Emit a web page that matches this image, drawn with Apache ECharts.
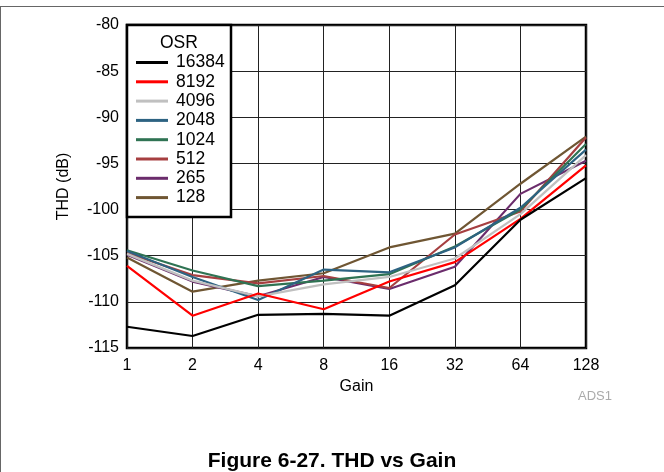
<!DOCTYPE html>
<html>
<head>
<meta charset="utf-8">
<script src="https://cdn.jsdelivr.net/npm/echarts@6/dist/echarts.min.js"></script>
<style>
html,body{margin:0;padding:0;background:#fff;}
#chart{width:664px;height:472px;}
</style>
</head>
<body>
<div id="chart"></div>
<script>
const gains = ['1', '2', '4', '8', '16', '32', '64', '128'];
const yTicks = [-115, -110, -105, -100, -95, -90, -85, -80];
const osrNames = ['16384', '8192', '4096', '2048', '1024', '512', '265', '128'];
const osr16384 = [-112.7, -113.7, -111.4, -111.3, -111.5, -108.2, -101.1, -96.6];
const osr8192  = [-106.1, -111.5, -109.1, -110.8, -107.8, -105.7, -101.0, -95.2];
const osr4096  = [-104.8, -107.7, -109.4, -108.1, -107.3, -105.3, -100.5, -94.1];
const osr2048  = [-104.5, -107.3, -109.8, -106.5, -106.8, -104.1, -99.8, -93.5];
const osr1024  = [-104.4, -106.6, -108.3, -107.7, -107.0, -104.0, -100.0, -92.9];
const osr512   = [-104.7, -107.1, -108.0, -107.2, -108.5, -102.7, -100.2, -92.2];
const osr265   = [-104.9, -107.8, -109.4, -107.3, -108.6, -106.2, -98.3, -94.7];
const osr128   = [-105.2, -108.9, -107.7, -106.9, -104.1, -102.6, -97.2, -92.1];
const seriesValues = [osr16384, osr8192, osr4096, osr2048, osr1024, osr512, osr265, osr128];
const colors = ['#000000', '#ff0000', '#c0c0c0', '#2d6382', '#2f7353', '#a63f40', '#6b2c6c', '#6f5633'];

const FONT = 'Liberation Sans, Arial, sans-serif';
const chart = echarts.init(document.getElementById('chart'), null, {renderer: 'canvas'});

const option = {
  animation: false,
  backgroundColor: '#ffffff',
  color: colors,
  title: {
    text: 'Figure 6-27. THD vs Gain',
    left: 'center',
    top: 446,
    textStyle: {fontFamily: FONT, fontSize: 21, fontWeight: 'bold', color: '#000'}
  },
  grid: {left: 127, right: 78, top: 25, bottom: 124, show: true, borderColor: '#000', borderWidth: 2.5, backgroundColor: 'transparent'},
  legend: {
    orient: 'vertical',
    left: 136,
    top: 53.5,
    padding: 0,
    z: 100,
    icon: 'rect',
    itemWidth: 32,
    itemHeight: 3,
    itemGap: 1.3,
    textStyle: {fontFamily: FONT, fontSize: 17.5, color: '#000', lineHeight: 18, padding: [0, 0, 0, 3]},
    data: osrNames
  },
  xAxis: {
    type: 'category',
    data: gains,
    boundaryGap: false,
    name: 'Gain',
    nameLocation: 'middle',
    nameGap: 30,
    nameTextStyle: {fontFamily: FONT, fontSize: 16, color: '#000'},
    axisLine: {show: false},
    axisTick: {show: false},
    axisLabel: {fontFamily: FONT, fontSize: 16, color: '#000', margin: 10},
    splitLine: {show: true, lineStyle: {color: '#222', width: 1}}
  },
  yAxis: {
    type: 'value',
    min: yTicks[0],
    max: yTicks[yTicks.length - 1],
    interval: 5,
    name: 'THD (dB)',
    nameLocation: 'middle',
    nameGap: 55,
    nameRotate: 90,
    nameTextStyle: {fontFamily: FONT, fontSize: 16, color: '#000'},
    axisLine: {show: false},
    axisTick: {show: false},
    axisLabel: {fontFamily: FONT, fontSize: 16, color: '#000', margin: 8},
    splitLine: {show: true, lineStyle: {color: '#222', width: 1}}
  },
  series: seriesValues.map((vals, i) => ({
    name: osrNames[i],
    type: 'line',
    data: vals,
    symbol: 'none',
    lineStyle: {width: 2.2, color: colors[i]},
    itemStyle: {color: colors[i]},
    z: 10 - i
  })),
  graphic: [
    {type: 'line', shape: {x1: 0, y1: 6.5, x2: 664, y2: 6.5}, style: {stroke: '#666', lineWidth: 1}},
    {type: 'line', shape: {x1: 0.5, y1: 6, x2: 0.5, y2: 472}, style: {stroke: '#666', lineWidth: 1}},
    {type: 'rect', shape: {x: 127, y: 25, width: 104, height: 192}, style: {fill: '#fff', stroke: '#000', lineWidth: 2.5}, z: 50},
    {type: 'text', left: 160, top: 34, style: {text: 'OSR', font: '17.5px ' + FONT, fill: '#000'}, z: 51},
    {type: 'text', left: 578, top: 390, style: {text: 'ADS1', font: '13px ' + FONT, fill: '#aaaaaa'}, z: 51}
  ]
};
chart.setOption(option);
</script>
</body>
</html>
